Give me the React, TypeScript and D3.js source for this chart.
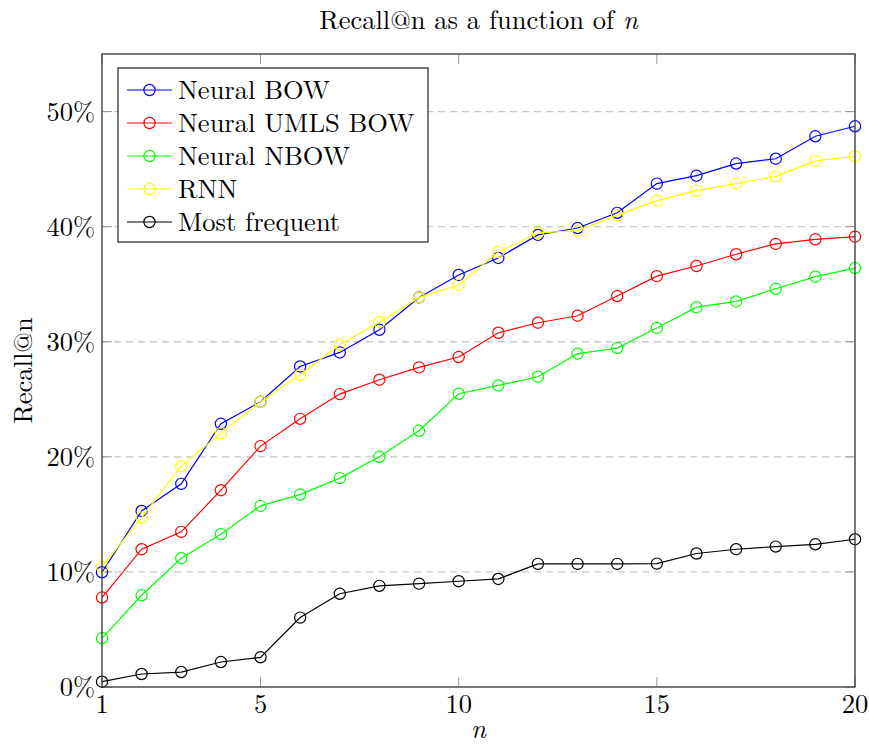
import React from "react";
import * as d3 from "d3";

const N = [1, 2, 3, 4, 5, 6, 7, 8, 9, 10, 11, 12, 13, 14, 15, 16, 17, 18, 19, 20];
const neuralBow = [9.97, 15.3, 17.65, 22.87, 24.78, 27.85, 29.07, 31.04, 33.85, 35.8, 37.28, 39.28, 39.88, 41.2, 43.74, 44.43, 45.48, 45.9, 47.85, 48.72];
const neuralUmlsBow = [7.77, 11.97, 13.48, 17.1, 20.93, 23.3, 25.45, 26.7, 27.77, 28.67, 30.78, 31.65, 32.26, 33.97, 35.7, 36.58, 37.6, 38.5, 38.9, 39.13];
const neuralNbow = [4.23, 7.97, 11.19, 13.28, 15.74, 16.72, 18.15, 20.0, 22.26, 25.48, 26.2, 26.96, 28.96, 29.45, 31.2, 33.0, 33.5, 34.6, 35.65, 36.4];
const rnn = [10.46, 14.72, 19.19, 22.06, 24.78, 27.13, 29.74, 31.7, 33.85, 34.93, 37.8, 39.45, 39.65, 40.98, 42.26, 43.13, 43.74, 44.37, 45.71, 46.1];
const mostFrequent = [0.46, 1.13, 1.3, 2.17, 2.58, 6.03, 8.1, 8.79, 8.98, 9.19, 9.39, 10.7, 10.7, 10.7, 10.72, 11.6, 11.97, 12.2, 12.4, 12.84];

const seriesNames = ["Neural BOW", "Neural UMLS BOW", "Neural NBOW", "RNN", "Most frequent"];
const seriesColors = ["#0000ff", "#ff0000", "#00ff00", "#ffff00", "#000000"];
const seriesValues = [neuralBow, neuralUmlsBow, neuralNbow, rnn, mostFrequent];

const xTicks = [1, 5, 10, 15, 20];
const yTicks = [0, 10, 20, 30, 40, 50];
const gridTicks = [10, 20, 30, 40, 50];

const W = 869;
const H = 745;
const L = 102, R = 855, T = 54, B = 687;
const FONT = "'Latin Modern Roman', 'Liberation Serif', serif";
const FS = 26.5;

export default function App() {
  const x = d3.scaleLinear().domain([1, 20]).range([L, R]);
  const y = d3.scaleLinear().domain([0, 55]).range([B, T]);
  const line = d3
    .line<number>()
    .x((_, i) => x(N[i]))
    .y((d) => y(d));

  const legendX = 118, legendY = 68, legendW = 310, legendH = 174;
  const rowY0 = 90, rowStep = 33;

  return (
    <svg
      width={W}
      height={H}
      style={{ position: "absolute", left: 0, top: 0, background: "#fff", fontFamily: FONT }}
    >
      <rect x={0} y={0} width={W} height={H} fill="#fff" />
      {gridTicks.map((t) => (
        <line key={"g" + t} x1={L} x2={R} y1={y(t)} y2={y(t)} stroke="#c8c8c8" strokeWidth={1.3} strokeDasharray="7 5" />
      ))}
      {yTicks.map((t) => (
        <g key={"yt" + t}>
          <line x1={L} x2={L + 10} y1={y(t)} y2={y(t)} stroke="#999" strokeWidth={1} />
          <line x1={R} x2={R - 10} y1={y(t)} y2={y(t)} stroke="#999" strokeWidth={1} />
          <text x={95} y={y(t) + 9} textAnchor="end" fontSize={FS} fill="#000">
            {t + "%"}
          </text>
        </g>
      ))}
      {xTicks.map((t) => (
        <g key={"xt" + t}>
          <line x1={x(t)} x2={x(t)} y1={B} y2={B - 10} stroke="#999" strokeWidth={1} />
          <line x1={x(t)} x2={x(t)} y1={T} y2={T + 10} stroke="#999" strokeWidth={1} />
          <text x={x(t)} y={713} textAnchor="middle" fontSize={FS} fill="#000">
            {t}
          </text>
        </g>
      ))}
      {seriesValues.map((vals, si) => (
        <g key={"s" + si}>
          <path d={line(vals) || ""} fill="none" stroke={seriesColors[si]} strokeWidth={1.2} />
          {vals.map((v, i) => (
            <circle key={i} cx={x(N[i])} cy={y(v)} r={5.6} fill="none" stroke={seriesColors[si]} strokeWidth={1.2} />
          ))}
        </g>
      ))}
      <rect x={L} y={T} width={R - L} height={B - T} fill="none" stroke="#404040" strokeWidth={1.4} />
      <rect x={legendX} y={legendY} width={legendW} height={legendH} fill="#fff" stroke="#303030" strokeWidth={1.3} />
      {seriesNames.map((name, i) => {
        const ry = rowY0 + i * rowStep;
        return (
          <g key={"l" + i}>
            <line x1={127} x2={172} y1={ry} y2={ry} stroke={seriesColors[i]} strokeWidth={1.2} />
            <circle cx={149.5} cy={ry} r={5.6} fill="none" stroke={seriesColors[i]} strokeWidth={1.2} />
            <text x={178} y={ry + 9} fontSize={FS} fill="#000">
              {name}
            </text>
          </g>
        );
      })}
      <text x={(L + R) / 2} y={29} textAnchor="middle" fontSize={FS} fill="#000">
        Recall@n as a function of <tspan fontStyle="italic">n</tspan>
      </text>
      <text x={(L + R) / 2} y={738} textAnchor="middle" fontSize={FS} fontStyle="italic" fill="#000">
        n
      </text>
      <text transform={`translate(32, ${(T + B) / 2}) rotate(-90)`} textAnchor="middle" fontSize={FS} fill="#000">
        Recall@n
      </text>
    </svg>
  );
}
